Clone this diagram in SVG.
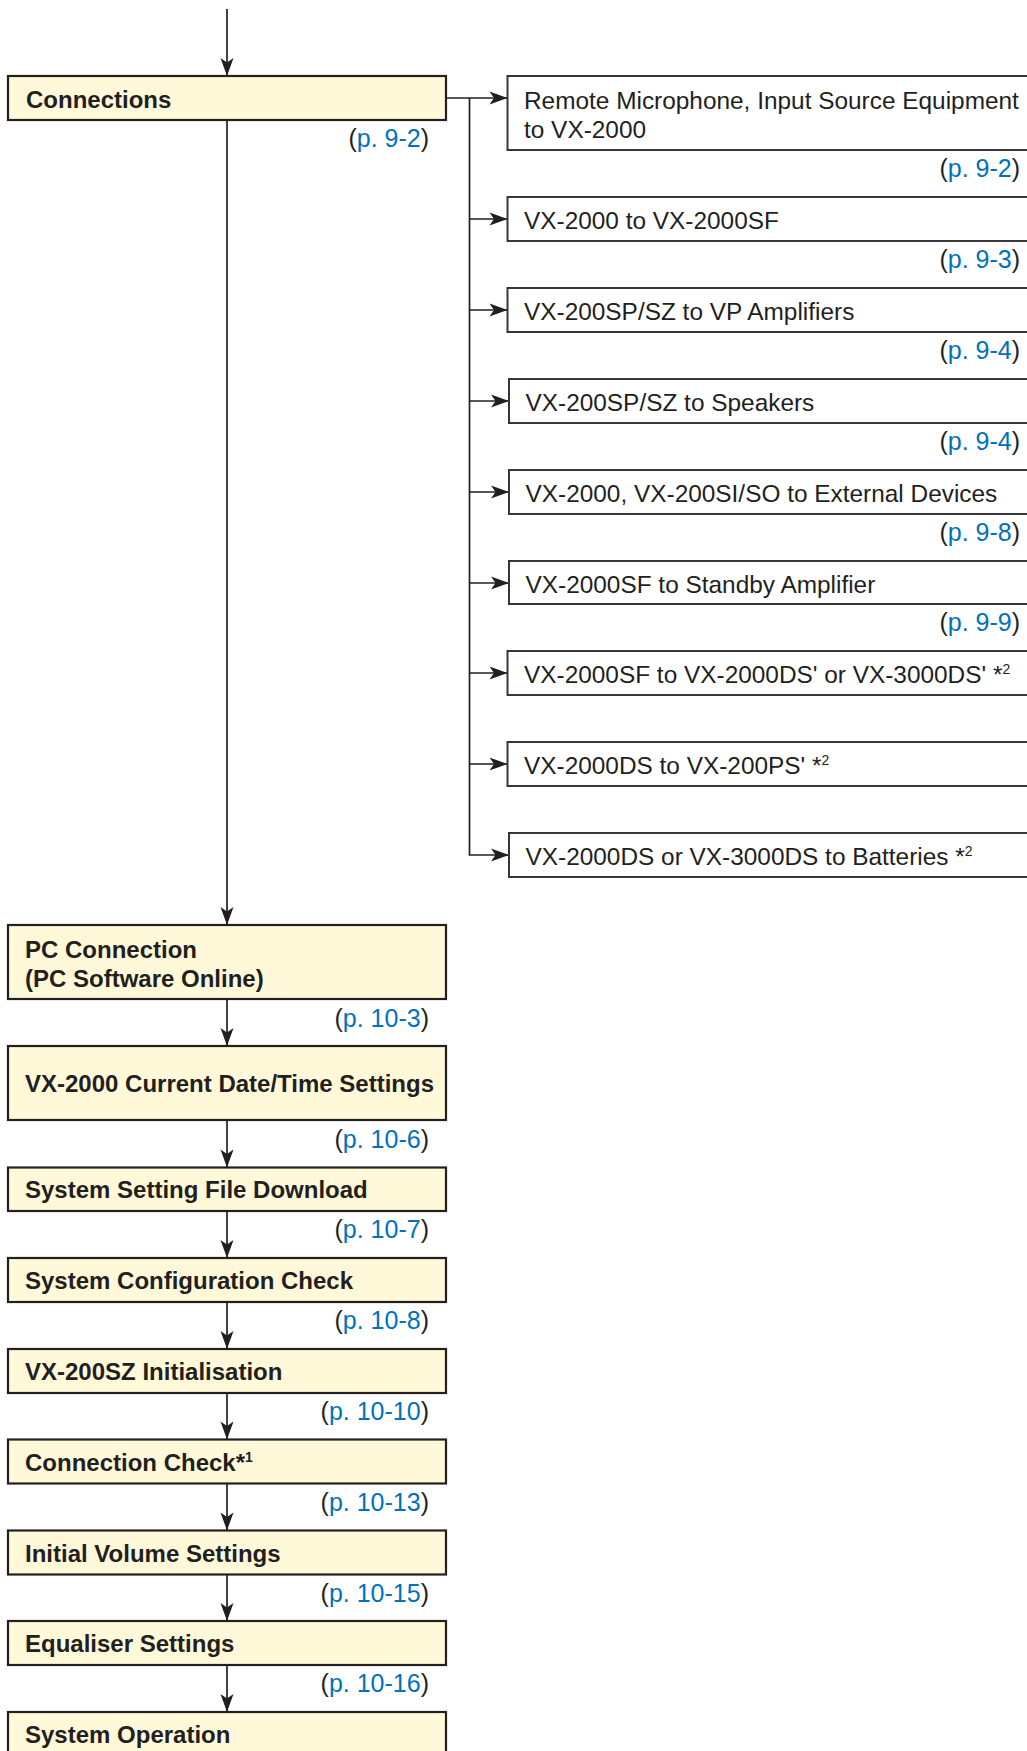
<svg xmlns="http://www.w3.org/2000/svg" width="1027" height="1751" viewBox="0 0 1027 1751">
<defs>
<marker id="ah" markerUnits="userSpaceOnUse" markerWidth="22" markerHeight="16" viewBox="-1 -8 22 16" refX="18" refY="0" orient="auto">
<path d="M0,-6.5 L18,0 L0,6.5 L4.5,0 Z" fill="#231f20"/>
</marker>
<style>
.lb{fill:#fff9d9;stroke:#231f20;stroke-width:2.2}
.rb{fill:#ffffff;stroke:#3a3637;stroke-width:2}
.bt{font-family:"Liberation Sans",Arial,Helvetica,sans-serif;font-weight:bold;font-size:24px;fill:#231f20}
.rt{font-family:"Liberation Sans",Arial,Helvetica,sans-serif;font-size:24.4px;fill:#231f20}
.pr{font-family:"Liberation Sans",Arial,Helvetica,sans-serif;font-size:25px;fill:#231f20;text-anchor:end}
.pb{fill:#0071bc}
.sup{font-size:14px}
.cn{fill:none;stroke:#231f20;stroke-width:1.7}
</style>
</defs>
<rect width="1027" height="1751" fill="#ffffff"/>

<g id="connectors">
<line class="cn" x1="227" y1="9" x2="227" y2="76" marker-end="url(#ah)"/>
<line class="cn" x1="227" y1="120" x2="227" y2="925" marker-end="url(#ah)"/>
<line class="cn" x1="227" y1="999" x2="227" y2="1046" marker-end="url(#ah)"/>
<line class="cn" x1="227" y1="1120" x2="227" y2="1167.5" marker-end="url(#ah)"/>
<line class="cn" x1="227" y1="1211" x2="227" y2="1258" marker-end="url(#ah)"/>
<line class="cn" x1="227" y1="1302" x2="227" y2="1349" marker-end="url(#ah)"/>
<line class="cn" x1="227" y1="1393" x2="227" y2="1439.5" marker-end="url(#ah)"/>
<line class="cn" x1="227" y1="1483.5" x2="227" y2="1530.5" marker-end="url(#ah)"/>
<line class="cn" x1="227" y1="1574.5" x2="227" y2="1621" marker-end="url(#ah)"/>
<line class="cn" x1="227" y1="1665" x2="227" y2="1712" marker-end="url(#ah)"/>
<line class="cn" x1="446" y1="98" x2="507.5" y2="98" marker-end="url(#ah)"/>
<path class="cn" d="M469.5,98 V855 H509" marker-end="url(#ah)"/>
<line class="cn" x1="469.5" y1="219" x2="507.5" y2="219" marker-end="url(#ah)"/>
<line class="cn" x1="469.5" y1="310" x2="507.5" y2="310" marker-end="url(#ah)"/>
<line class="cn" x1="469.5" y1="401" x2="509" y2="401" marker-end="url(#ah)"/>
<line class="cn" x1="469.5" y1="492" x2="509" y2="492" marker-end="url(#ah)"/>
<line class="cn" x1="469.5" y1="583" x2="509" y2="583" marker-end="url(#ah)"/>
<line class="cn" x1="469.5" y1="673" x2="507.5" y2="673" marker-end="url(#ah)"/>
<line class="cn" x1="469.5" y1="764" x2="507.5" y2="764" marker-end="url(#ah)"/>
</g>

<g id="n-connections">
<rect class="lb" x="8" y="76" width="438" height="44"/>
<text class="bt" x="26" y="108">Connections</text>
<text class="pr" x="429" y="147">(<tspan class="pb">p. 9-2</tspan>)</text>
</g>

<g id="n-pc">
<rect class="lb" x="8" y="925" width="438" height="74"/>
<text class="bt" x="25" y="958">PC Connection</text>
<text class="bt" x="25" y="987">(PC Software Online)</text>
<text class="pr" x="429" y="1027">(<tspan class="pb">p. 10-3</tspan>)</text>
</g>

<g id="n-datetime">
<rect class="lb" x="8" y="1046" width="438" height="74"/>
<text class="bt" x="25" y="1092">VX-2000 Current Date/Time Settings</text>
<text class="pr" x="429" y="1148">(<tspan class="pb">p. 10-6</tspan>)</text>
</g>

<g id="n-download">
<rect class="lb" x="8" y="1167.5" width="438" height="43.5"/>
<text class="bt" x="25" y="1198">System Setting File Download</text>
<text class="pr" x="429" y="1238">(<tspan class="pb">p. 10-7</tspan>)</text>
</g>

<g id="n-configcheck">
<rect class="lb" x="8" y="1258" width="438" height="44"/>
<text class="bt" x="25" y="1289">System Configuration Check</text>
<text class="pr" x="429" y="1329">(<tspan class="pb">p. 10-8</tspan>)</text>
</g>

<g id="n-sz-init">
<rect class="lb" x="8" y="1349" width="438" height="44"/>
<text class="bt" x="25" y="1380">VX-200SZ Initialisation</text>
<text class="pr" x="429" y="1420">(<tspan class="pb">p. 10-10</tspan>)</text>
</g>

<g id="n-conncheck">
<rect class="lb" x="8" y="1439.5" width="438" height="44"/>
<text class="bt" x="25" y="1471">Connection Check*<tspan class="sup" dy="-9">1</tspan></text>
<text class="pr" x="429" y="1511">(<tspan class="pb">p. 10-13</tspan>)</text>
</g>

<g id="n-volume">
<rect class="lb" x="8" y="1530.5" width="438" height="44"/>
<text class="bt" x="25" y="1562">Initial Volume Settings</text>
<text class="pr" x="429" y="1602">(<tspan class="pb">p. 10-15</tspan>)</text>
</g>

<g id="n-eq">
<rect class="lb" x="8" y="1621" width="438" height="44"/>
<text class="bt" x="25" y="1652">Equaliser Settings</text>
<text class="pr" x="429" y="1692">(<tspan class="pb">p. 10-16</tspan>)</text>
</g>

<g id="n-operation">
<rect class="lb" x="8" y="1712" width="438" height="60"/>
<text class="bt" x="25" y="1743">System Operation</text>
</g>

<g id="r1">
<rect class="rb" x="507.5" y="76" width="540" height="74"/>
<text class="rt" x="524" y="109">Remote Microphone, Input Source Equipment</text>
<text class="rt" x="524" y="138">to VX-2000</text>
<text class="pr" x="1020" y="177">(<tspan class="pb">p. 9-2</tspan>)</text>
</g>
<g id="r2">
<rect class="rb" x="507.5" y="197" width="540" height="44"/>
<text class="rt" x="524" y="229">VX-2000 to VX-2000SF</text>
<text class="pr" x="1020" y="268">(<tspan class="pb">p. 9-3</tspan>)</text>
</g>
<g id="r3">
<rect class="rb" x="507.5" y="288" width="540" height="44"/>
<text class="rt" x="524" y="320">VX-200SP/SZ to VP Amplifiers</text>
<text class="pr" x="1020" y="359">(<tspan class="pb">p. 9-4</tspan>)</text>
</g>
<g id="r4">
<rect class="rb" x="509" y="379" width="540" height="44"/>
<text class="rt" x="525.5" y="411">VX-200SP/SZ to Speakers</text>
<text class="pr" x="1020" y="450">(<tspan class="pb">p. 9-4</tspan>)</text>
</g>
<g id="r5">
<rect class="rb" x="509" y="470" width="540" height="44"/>
<text class="rt" x="525.5" y="502">VX-2000, VX-200SI/SO to External Devices</text>
<text class="pr" x="1020" y="541">(<tspan class="pb">p. 9-8</tspan>)</text>
</g>
<g id="r6">
<rect class="rb" x="509" y="561" width="540" height="43"/>
<text class="rt" x="525.5" y="593">VX-2000SF to Standby Amplifier</text>
<text class="pr" x="1020" y="631">(<tspan class="pb">p. 9-9</tspan>)</text>
</g>
<g id="r7">
<rect class="rb" x="507.5" y="651" width="540" height="44"/>
<text class="rt" x="524" y="683">VX-2000SF to VX-2000DS' or VX-3000DS' *<tspan class="sup" dy="-9">2</tspan></text>
</g>
<g id="r8">
<rect class="rb" x="507.5" y="742" width="540" height="44"/>
<text class="rt" x="524" y="774">VX-2000DS to VX-200PS' *<tspan class="sup" dy="-9">2</tspan></text>
</g>
<g id="r9">
<rect class="rb" x="509" y="833" width="540" height="44"/>
<text class="rt" x="525.5" y="865">VX-2000DS or VX-3000DS to Batteries *<tspan class="sup" dy="-9">2</tspan></text>
</g>
</svg>
